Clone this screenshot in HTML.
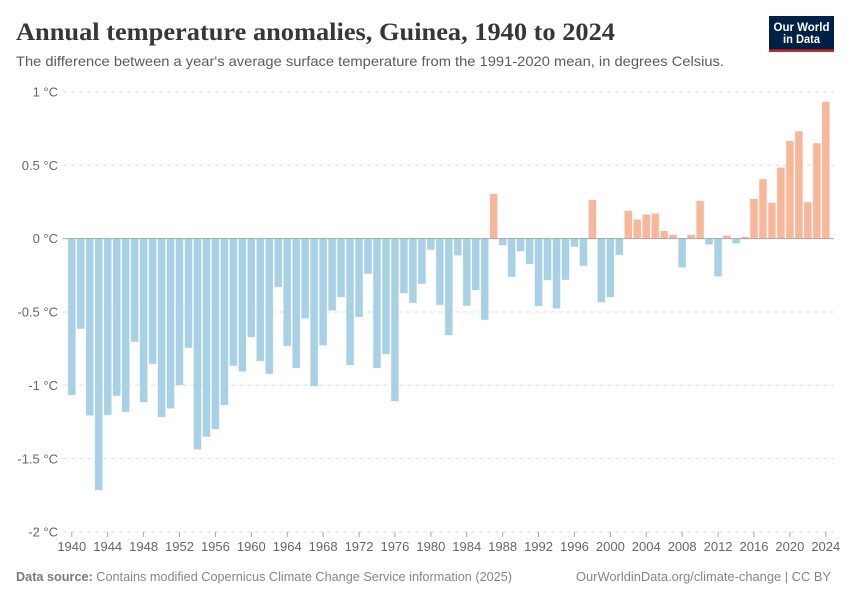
<!DOCTYPE html>
<html lang="en">
<head>
<meta charset="utf-8">
<title>Annual temperature anomalies, Guinea, 1940 to 2024</title>
<style>
html,body{margin:0;padding:0;background:#fff}
svg{display:block;font-family:"Liberation Sans",sans-serif}
</style>
</head>
<body>
<svg id="chart" width="850" height="600" viewBox="0 0 850 600" xmlns="http://www.w3.org/2000/svg">
  <rect width="850" height="600" fill="#fff"/>
  <text x="16" y="40" font-family="'Liberation Serif',serif" font-weight="700" font-size="25.5" fill="#373737" textLength="599" lengthAdjust="spacingAndGlyphs">Annual temperature anomalies, Guinea, 1940 to 2024</text>
  <text x="16" y="66" font-size="14" fill="#5b5b5b" textLength="708" lengthAdjust="spacingAndGlyphs">The difference between a year's average surface temperature from the 1991-2020 mean, in degrees Celsius.</text>
  <g>
    <rect x="769" y="16" width="65" height="36" fill="#002147"/>
    <rect x="769" y="49.5" width="65" height="2.5" fill="#ce261e"/>
    <text x="801.5" y="31" text-anchor="middle" font-size="11.5" font-weight="700" fill="#fff" textLength="56" lengthAdjust="spacingAndGlyphs">Our World</text>
    <text x="801.5" y="43" text-anchor="middle" font-size="11.5" font-weight="700" fill="#fff" textLength="37" lengthAdjust="spacingAndGlyphs">in Data</text>
  </g>
  <g id="grid"></g>
  <g id="bars"></g>
  <g id="yaxis"></g>
  <line id="zero" stroke="#a6a6a6" stroke-width="1"/>
  <g id="xaxis"></g>
  <text x="16" y="581" font-size="13" fill="#858585" textLength="496" lengthAdjust="spacingAndGlyphs"><tspan font-weight="700" fill="#7a7a7a">Data source:</tspan> Contains modified Copernicus Climate Change Service information (2025)</text>
  <text x="576" y="581" font-size="13" fill="#858585" textLength="255" lengthAdjust="spacingAndGlyphs">OurWorldinData.org/climate-change | CC BY</text>
</svg>
<script>
const years = [1940,1941,1942,1943,1944,1945,1946,1947,1948,1949,1950,1951,1952,1953,1954,1955,1956,1957,1958,1959,1960,1961,1962,1963,1964,1965,1966,1967,1968,1969,1970,1971,1972,1973,1974,1975,1976,1977,1978,1979,1980,1981,1982,1983,1984,1985,1986,1987,1988,1989,1990,1991,1992,1993,1994,1995,1996,1997,1998,1999,2000,2001,2002,2003,2004,2005,2006,2007,2008,2009,2010,2011,2012,2013,2014,2015,2016,2017,2018,2019,2020,2021,2022,2023,2024];
const anomalies = [-1.066,-0.614,-1.205,-1.714,-1.202,-1.071,-1.18,-0.703,-1.114,-0.853,-1.216,-1.157,-0.998,-0.744,-1.436,-1.35,-1.298,-1.134,-0.866,-0.905,-0.671,-0.834,-0.921,-0.33,-0.732,-0.882,-0.543,-1.005,-0.727,-0.489,-0.398,-0.862,-0.534,-0.239,-0.882,-0.787,-1.107,-0.371,-0.437,-0.307,-0.076,-0.451,-0.657,-0.114,-0.457,-0.35,-0.553,0.304,-0.044,-0.26,-0.085,-0.173,-0.459,-0.282,-0.475,-0.281,-0.055,-0.185,0.263,-0.432,-0.398,-0.11,0.188,0.129,0.163,0.17,0.052,0.025,-0.196,0.025,0.256,-0.039,-0.257,0.02,-0.032,0.011,0.27,0.404,0.243,0.483,0.665,0.731,0.247,0.65,0.931];
const yTickValues = [1,0.5,0,-0.5,-1,-1.5,-2];
const yTickLabels = ["1 °C","0.5 °C","0 °C","-0.5 °C","-1 °C","-1.5 °C","-2 °C"];
const xTickYears = [1940,1944,1948,1952,1956,1960,1964,1968,1972,1976,1980,1984,1988,1992,1996,2000,2004,2008,2012,2016,2020,2024];

const NS = 'http://www.w3.org/2000/svg';
const plotLeft = 63, plotRight = 834;
const xScale = year => 71.8 + (year - 1940) * 8.976;
const yScale = value => 238.6 - value * 146.7;
const barWidth = 7.3;

function make(tag, parent, attrs) {
  const el = document.createElementNS(NS, tag);
  for (const key in attrs) el.setAttribute(key, attrs[key]);
  parent.appendChild(el);
  return el;
}

const grid = document.getElementById('grid');
const bars = document.getElementById('bars');
const yaxis = document.getElementById('yaxis');
const xaxis = document.getElementById('xaxis');

yTickValues.forEach((value, i) => {
  const y = yScale(value);
  if (value !== 0) {
    const line = make('line', grid, {x1: plotLeft, x2: plotRight, y1: y, y2: y, stroke: '#dddddd', 'stroke-dasharray': '4 4'});
    
    
  }
  const label = make('text', yaxis, {x: 58, y: y + 4.6, 'text-anchor': 'end', 'font-size': 13, fill: '#666666'});
  label.textContent = yTickLabels[i];
  
  
});

years.forEach((year, i) => {
  const value = anomalies[i];
  const top = Math.min(yScale(value), yScale(0));
  const height = Math.abs(yScale(value) - yScale(0));
  const color = value >= 0 ? '#f6b79b' : '#a9d1e5';
  const bar = make('rect', bars, {x: xScale(year) - barWidth / 2, y: top, width: barWidth, height: height, fill: color, stroke: color, 'stroke-opacity': 0.25, 'stroke-width': 1});
  
  
});

const zero = document.getElementById('zero');
zero.setAttribute('x1', plotLeft);
zero.setAttribute('x2', plotRight);
zero.setAttribute('y1', yScale(0));
zero.setAttribute('y2', yScale(0));

xTickYears.forEach(year => {
  const x = xScale(year);
  const tick = make('line', xaxis, {x1: x, x2: x, y1: yScale(-2), y2: yScale(-2) + 5, stroke: '#a6a6a6'});
  
  
  const label = make('text', xaxis, {x: x, y: 551, 'text-anchor': 'middle', 'font-size': 13, fill: '#666666'});
  label.textContent = String(year);
  
  
});
</script>
</body>
</html>
